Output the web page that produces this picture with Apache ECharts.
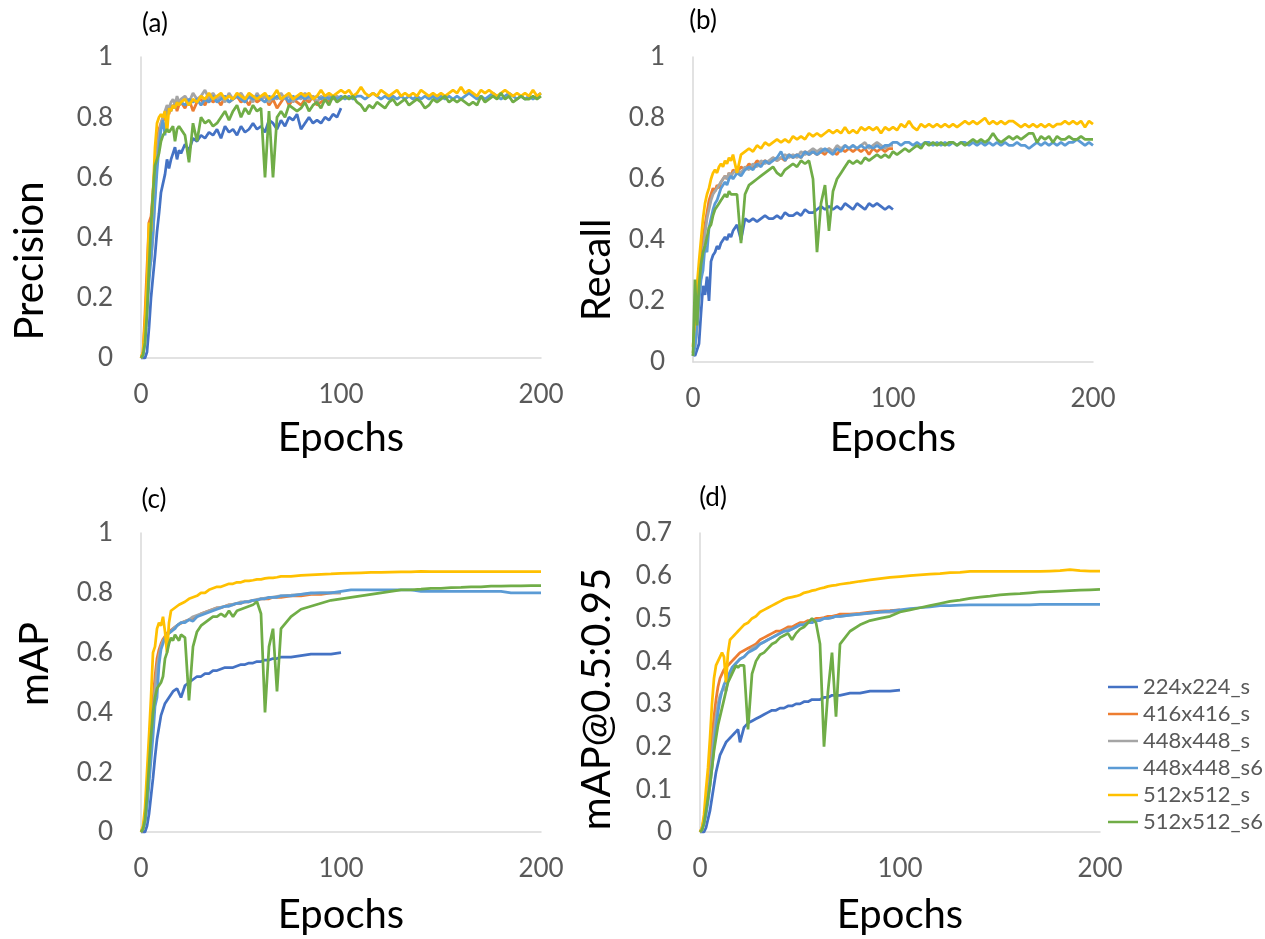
<!DOCTYPE html>
<html>
<head>
<meta charset="utf-8">
<script src="https://cdn.jsdelivr.net/npm/echarts@6/dist/echarts.min.js"></script>
<style>
html,body{margin:0;padding:0;background:#fff;}
#chart{width:1265px;height:939px;}
</style>
</head>
<body>
<div id="chart"></div>
<script>
// ---------- categories / names ----------
const SERIES_NAMES = ['224x224_s','416x416_s','448x448_s','448x448_s6','512x512_s','512x512_s6'];
const PANEL_LABELS = ['(a)','(b)','(c)','(d)'];
const Y_TITLES = ['Precision','Recall','mAP','mAP@0.5:0.95'];
const X_TITLE = 'Epochs';

// ---------- epochs (x values) ----------
const EPOCHS_PR = [0,1,2,3,4,5,6,7,8,9,10,11,12,13,14,15,16,17,18,19,20,
22,24,26,28,30,32,34,36,38,40,42,44,46,48,50,52,54,56,58,60,62,64,66,68,70,72,74,76,78,80,
82,84,86,88,90,92,94,96,98,100,102,104,106,108,110,112,114,116,118,120,122,124,126,128,130,
132,134,136,138,140,142,144,146,148,150,152,154,156,158,160,162,164,166,168,170,172,174,176,178,180,
182,184,186,188,190,192,194,196,198,200];
const EPOCHS_MAP = [0,1,2,3,4,5,6,7,8,9,10,11,12,13,14,15,16,17,18,19,20,
22,24,26,28,30,32,34,36,38,40,42,44,46,48,50,52,54,56,58,60,62,64,66,68,70,
75,80,85,90,95,100,105,110,115,120,125,130,135,140,145,150,155,160,165,170,175,180,185,190,195,200];

// ---------- (a) Precision ----------
const P_224 = [0,0,0,0.02,0.1,0.2,0.27,0.34,0.42,0.48,0.55,0.58,0.61,0.66,0.63,0.66,0.68,0.70,0.66,0.69,0.68,
0.71,0.69,0.73,0.72,0.74,0.73,0.75,0.74,0.76,0.73,
0.77,0.75,0.76,0.74,0.77,0.75,0.76,0.78,0.76,0.77,
0.75,0.79,0.78,0.76,0.79,0.77,0.80,0.79,0.81,0.76,
0.78,0.80,0.78,0.79,0.78,0.80,0.79,0.81,0.80,0.83];
const P_416 = [0,0.02,0.15,0.3,0.45,0.47,0.55,0.65,0.72,0.76,0.78,0.80,0.79,0.83,0.81,0.84,0.83,0.85,0.82,0.84,0.85,
0.83,0.86,0.82,0.85,0.86,0.84,0.87,0.85,0.86,0.84,
0.87,0.85,0.86,0.87,0.85,0.86,0.84,0.87,0.85,0.86,
0.87,0.84,0.86,0.83,0.85,0.87,0.84,0.86,0.85,0.84,
0.86,0.85,0.87,0.84,0.85,0.86,0.85,0.87,0.86,0.86];
const P_448 = [0,0.01,0.08,0.2,0.3,0.32,0.4,0.55,0.68,0.74,0.78,0.80,0.82,0.84,0.83,0.85,0.86,0.84,0.87,0.85,0.86,
0.87,0.85,0.88,0.86,0.87,0.89,0.86,0.88,0.86,0.87,
0.85,0.88,0.86,0.87,0.88,0.86,0.87,0.85,0.88,0.86,
0.87,0.85,0.87,0.86,0.88,0.86,0.87,0.85,0.87,0.86,
0.88,0.86,0.87,0.85,0.87,0.86,0.87,0.86,0.87,0.86];
const P_448S6 = [0,0.01,0.05,0.15,0.25,0.33,0.42,0.52,0.62,0.70,0.76,0.79,0.74,0.81,0.83,0.82,0.84,0.83,0.85,0.84,0.85,
0.84,0.86,0.85,0.86,0.84,0.86,0.85,0.87,0.85,0.86,
0.87,0.85,0.86,0.87,0.86,0.85,0.87,0.86,0.87,0.86,
0.85,0.87,0.86,0.87,0.86,0.87,0.85,0.87,0.86,0.87,
0.86,0.87,0.86,0.87,0.86,0.87,0.86,0.87,0.86,0.87,
0.86,0.87,0.86,0.87,0.87,0.86,0.87,0.88,0.87,0.86,
0.87,0.86,0.87,0.86,0.87,0.86,0.87,0.86,0.87,0.86,
0.87,0.86,0.87,0.86,0.87,0.86,0.87,0.86,0.87,0.86,
0.87,0.88,0.87,0.86,0.87,0.86,0.87,0.88,0.87,0.86,
0.87,0.88,0.87,0.86,0.87,0.86,0.87,0.86,0.87,0.88];
const P_512 = [0,0.02,0.12,0.25,0.45,0.42,0.55,0.70,0.78,0.80,0.81,0.80,0.82,0.75,0.83,0.82,0.84,0.83,0.85,0.84,0.85,
0.86,0.84,0.86,0.85,0.87,0.86,0.88,0.86,0.87,0.88,
0.86,0.87,0.86,0.88,0.87,0.86,0.88,0.87,0.86,0.87,
0.88,0.86,0.87,0.89,0.86,0.87,0.88,0.86,0.87,0.88,
0.87,0.88,0.86,0.87,0.89,0.87,0.88,0.87,0.88,0.89,
0.88,0.89,0.87,0.88,0.90,0.88,0.87,0.88,0.87,0.89,
0.88,0.87,0.88,0.89,0.87,0.88,0.87,0.88,0.87,0.89,
0.88,0.87,0.88,0.87,0.88,0.87,0.88,0.89,0.88,0.90,
0.88,0.89,0.88,0.87,0.89,0.88,0.89,0.88,0.87,0.88,
0.89,0.88,0.87,0.88,0.87,0.88,0.87,0.89,0.87,0.88];
const P_512S6 = [0,0.01,0.05,0.15,0.30,0.44,0.55,0.64,0.66,0.68,0.72,0.74,0.75,0.76,0.75,0.76,0.77,0.72,0.76,0.77,0.76,
0.74,0.65,0.78,0.72,0.80,0.78,0.79,0.77,0.78,0.80,
0.82,0.79,0.82,0.84,0.80,0.83,0.81,0.84,0.82,0.83,
0.60,0.82,0.60,0.80,0.82,0.80,0.84,0.83,0.82,0.83,
0.85,0.82,0.84,0.85,0.83,0.86,0.84,0.87,0.85,0.86,
0.87,0.86,0.87,0.85,0.84,0.82,0.84,0.83,0.85,0.84,
0.83,0.85,0.86,0.84,0.85,0.86,0.84,0.85,0.86,0.85,
0.83,0.84,0.86,0.85,0.86,0.87,0.85,0.86,0.85,0.86,
0.85,0.84,0.85,0.84,0.87,0.85,0.86,0.87,0.86,0.88,
0.86,0.87,0.85,0.86,0.87,0.86,0.86,0.87,0.86,0.87];

// ---------- (b) Recall ----------
const R_224 = [0.03,0.02,0.02,0.06,0.16,0.25,0.22,0.28,0.20,0.33,0.35,0.36,0.38,0.37,0.39,0.40,0.41,0.40,0.42,0.41,0.43,
0.45,0.40,0.47,0.46,0.47,0.46,0.47,0.48,0.47,0.47,
0.48,0.47,0.49,0.48,0.48,0.49,0.48,0.50,0.49,0.49,
0.50,0.51,0.50,0.51,0.50,0.51,0.50,0.52,0.51,0.50,
0.52,0.51,0.50,0.52,0.51,0.52,0.51,0.50,0.51,0.50];
const R_416 = [0.03,0.08,0.15,0.25,0.33,0.40,0.45,0.49,0.53,0.55,0.57,0.56,0.58,0.57,0.59,0.60,0.61,0.60,0.62,0.61,0.63,
0.62,0.64,0.63,0.65,0.64,0.66,0.65,0.66,0.65,0.67,
0.66,0.67,0.66,0.68,0.67,0.68,0.67,0.69,0.68,0.69,
0.68,0.69,0.68,0.70,0.69,0.68,0.70,0.69,0.70,0.69,
0.70,0.69,0.70,0.68,0.70,0.69,0.70,0.69,0.70,0.70];
const R_448 = [0.02,0.05,0.10,0.20,0.28,0.36,0.42,0.47,0.50,0.53,0.55,0.56,0.57,0.58,0.59,0.60,0.61,0.60,0.62,0.61,0.62,
0.63,0.62,0.64,0.63,0.65,0.64,0.66,0.65,0.66,0.67,
0.66,0.67,0.68,0.67,0.68,0.67,0.69,0.68,0.69,0.70,
0.69,0.70,0.69,0.70,0.69,0.71,0.70,0.71,0.70,0.71,
0.70,0.71,0.72,0.70,0.71,0.72,0.71,0.70,0.71,0.71];
const R_448S6 = [0.02,0.05,0.12,0.20,0.27,0.30,0.38,0.36,0.44,0.47,0.50,0.52,0.53,0.55,0.57,0.58,0.59,0.58,0.60,0.61,0.60,
0.62,0.61,0.63,0.64,0.63,0.65,0.64,0.66,0.65,0.66,
0.67,0.69,0.66,0.68,0.67,0.68,0.67,0.69,0.68,0.69,
0.68,0.69,0.70,0.69,0.68,0.70,0.69,0.71,0.70,0.71,
0.70,0.71,0.70,0.71,0.70,0.71,0.70,0.71,0.71,0.72,
0.72,0.71,0.72,0.72,0.71,0.72,0.71,0.72,0.72,0.71,
0.72,0.71,0.72,0.71,0.72,0.71,0.72,0.72,0.71,0.72,
0.71,0.72,0.71,0.72,0.71,0.72,0.71,0.72,0.71,0.71,
0.72,0.71,0.71,0.70,0.71,0.72,0.71,0.72,0.71,0.72,
0.71,0.72,0.71,0.72,0.72,0.73,0.72,0.71,0.72,0.71];
const R_512 = [0.05,0.15,0.25,0.33,0.40,0.47,0.52,0.55,0.57,0.60,0.62,0.63,0.62,0.64,0.65,0.64,0.66,0.65,0.67,0.66,0.68,
0.62,0.68,0.69,0.70,0.69,0.71,0.70,0.72,0.71,0.72,
0.73,0.72,0.73,0.72,0.74,0.73,0.74,0.73,0.75,0.74,
0.75,0.74,0.75,0.76,0.75,0.76,0.75,0.77,0.75,0.76,
0.75,0.77,0.76,0.77,0.76,0.77,0.75,0.77,0.76,0.77,
0.76,0.78,0.77,0.79,0.77,0.76,0.78,0.77,0.78,0.77,
0.78,0.77,0.78,0.77,0.78,0.77,0.78,0.79,0.78,0.79,
0.78,0.79,0.80,0.78,0.79,0.78,0.79,0.78,0.79,0.79,
0.78,0.77,0.78,0.77,0.78,0.77,0.78,0.77,0.78,0.77,
0.78,0.78,0.79,0.78,0.79,0.78,0.79,0.77,0.79,0.78];
const R_512S6 = [0.02,0.27,0.12,0.25,0.32,0.36,0.38,0.41,0.44,0.45,0.48,0.50,0.51,0.52,0.53,0.54,0.55,0.54,0.56,0.55,0.55,
0.55,0.39,0.55,0.58,0.59,0.60,0.61,0.62,0.63,0.64,
0.62,0.61,0.63,0.64,0.65,0.64,0.66,0.65,0.66,0.60,
0.36,0.52,0.58,0.43,0.56,0.60,0.62,0.64,0.66,0.65,
0.66,0.65,0.67,0.66,0.67,0.68,0.67,0.68,0.67,0.69,
0.68,0.69,0.70,0.69,0.70,0.71,0.70,0.72,0.71,0.72,
0.71,0.72,0.71,0.72,0.72,0.71,0.72,0.71,0.72,0.73,
0.72,0.73,0.72,0.73,0.75,0.73,0.72,0.73,0.74,0.73,
0.74,0.73,0.74,0.75,0.75,0.72,0.74,0.73,0.74,0.72,
0.74,0.73,0.73,0.74,0.73,0.73,0.74,0.73,0.73,0.73];

// ---------- (c) mAP ----------
const M_224 = [0,0,0,0.02,0.06,0.12,0.18,0.25,0.31,0.35,0.39,0.41,0.43,0.44,0.45,0.46,0.47,0.47,0.48,0.48,0.45,
0.49,0.50,0.51,0.52,0.52,0.53,0.53,0.54,0.54,0.545,0.55,0.55,0.55,0.555,0.56,0.56,0.565,0.565,0.57,0.57,0.575,0.575,0.58,0.58,0.585,
0.585,0.59,0.595,0.595,0.595,0.60];
const M_416 = [0,0.01,0.05,0.15,0.28,0.36,0.44,0.52,0.58,0.61,0.63,0.645,0.655,0.665,0.67,0.675,0.68,0.685,0.69,0.695,0.70,
0.705,0.71,0.715,0.72,0.73,0.735,0.74,0.745,0.75,0.75,0.755,0.76,0.76,0.765,0.765,0.77,0.77,0.775,0.775,0.78,0.78,0.78,0.785,0.785,0.785,
0.79,0.79,0.795,0.795,0.80,0.80];
const M_448 = [0,0.01,0.03,0.10,0.20,0.30,0.40,0.48,0.55,0.59,0.62,0.64,0.65,0.66,0.665,0.67,0.68,0.685,0.69,0.695,0.70,
0.705,0.71,0.72,0.725,0.73,0.735,0.74,0.745,0.75,0.752,0.755,0.76,0.762,0.765,0.77,0.77,0.772,0.775,0.778,0.78,0.782,0.784,0.786,0.788,0.79,
0.792,0.795,0.797,0.80,0.80,0.80];
const M_448S6 = [0,0.01,0.03,0.08,0.16,0.24,0.32,0.42,0.45,0.56,0.61,0.63,0.65,0.66,0.665,0.67,0.675,0.68,0.69,0.69,0.70,
0.70,0.71,0.705,0.72,0.725,0.73,0.735,0.74,0.745,0.75,0.755,0.755,0.76,0.765,0.765,0.77,0.77,0.775,0.775,0.78,0.78,0.785,0.785,0.785,0.79,
0.79,0.795,0.80,0.80,0.80,0.805,0.81,0.81,0.81,0.81,0.81,0.81,0.81,0.805,0.805,0.805,0.805,0.805,0.805,0.805,0.805,0.805,0.80,0.80,0.80,0.80];
const M_512 = [0,0.02,0.08,0.20,0.32,0.45,0.60,0.62,0.68,0.70,0.69,0.72,0.67,0.60,0.70,0.74,0.745,0.75,0.755,0.76,0.765,
0.77,0.78,0.785,0.79,0.80,0.80,0.81,0.815,0.82,0.82,0.825,0.83,0.83,0.835,0.835,0.84,0.84,0.842,0.845,0.845,0.848,0.85,0.85,0.852,0.855,
0.855,0.858,0.86,0.862,0.863,0.865,0.866,0.867,0.868,0.868,0.869,0.87,0.87,0.872,0.871,0.871,0.871,0.871,0.871,0.871,0.871,0.871,0.871,0.871,0.871,0.871];
const M_512S6 = [0,0.01,0.04,0.12,0.22,0.32,0.40,0.45,0.48,0.49,0.50,0.52,0.58,0.60,0.63,0.65,0.64,0.66,0.65,0.64,0.66,
0.65,0.44,0.62,0.67,0.69,0.70,0.71,0.72,0.72,0.73,0.72,0.74,0.72,0.74,0.745,0.75,0.755,0.76,0.77,0.73,0.40,0.62,0.68,0.47,0.68,
0.72,0.745,0.755,0.765,0.775,0.78,0.785,0.79,0.795,0.80,0.805,0.81,0.81,0.812,0.815,0.815,0.817,0.818,0.82,0.82,0.822,0.822,0.823,0.823,0.824,0.824];

// ---------- (d) mAP@0.5:0.95 ----------
const D_224 = [0,0,0,0.01,0.03,0.05,0.08,0.11,0.14,0.16,0.18,0.19,0.20,0.21,0.215,0.22,0.225,0.23,0.235,0.24,0.21,
0.245,0.255,0.26,0.265,0.27,0.275,0.28,0.285,0.285,0.29,0.29,0.295,0.295,0.30,0.30,0.305,0.305,0.31,0.31,0.31,0.315,0.315,0.32,0.32,0.32,
0.325,0.325,0.33,0.33,0.33,0.332];
const D_416 = [0,0.01,0.03,0.07,0.12,0.17,0.22,0.27,0.31,0.34,0.36,0.37,0.38,0.385,0.39,0.395,0.40,0.405,0.41,0.415,0.42,
0.425,0.43,0.435,0.44,0.45,0.455,0.46,0.465,0.47,0.47,0.475,0.48,0.48,0.485,0.49,0.49,0.495,0.495,0.50,0.50,0.502,0.505,0.505,0.507,0.51,
0.51,0.512,0.515,0.517,0.518,0.52];
const D_448 = [0,0.005,0.02,0.05,0.09,0.13,0.18,0.23,0.27,0.30,0.32,0.33,0.34,0.33,0.36,0.37,0.38,0.39,0.395,0.40,0.405,
0.41,0.42,0.43,0.435,0.44,0.445,0.45,0.455,0.46,0.465,0.47,0.475,0.475,0.48,0.485,0.487,0.49,0.492,0.495,0.497,0.50,0.50,0.502,0.505,0.505,
0.508,0.51,0.512,0.515,0.515,0.517];
const D_448S6 = [0,0.005,0.02,0.04,0.07,0.11,0.15,0.20,0.24,0.28,0.31,0.33,0.345,0.355,0.365,0.375,0.385,0.39,0.395,0.40,0.405,
0.41,0.42,0.425,0.43,0.44,0.445,0.45,0.455,0.46,0.465,0.47,0.47,0.475,0.48,0.485,0.485,0.49,0.49,0.495,0.495,0.50,0.50,0.502,0.505,0.505,
0.508,0.51,0.513,0.515,0.517,0.52,0.523,0.525,0.527,0.53,0.53,0.531,0.532,0.532,0.532,0.532,0.532,0.532,0.532,0.533,0.533,0.533,0.533,0.533,0.533,0.533];
const D_512 = [0,0.01,0.04,0.10,0.15,0.22,0.30,0.36,0.39,0.40,0.41,0.42,0.41,0.35,0.42,0.45,0.455,0.46,0.465,0.47,0.475,
0.485,0.49,0.50,0.505,0.515,0.52,0.525,0.53,0.535,0.54,0.545,0.548,0.55,0.552,0.555,0.56,0.562,0.565,0.567,0.57,0.572,0.575,0.577,0.578,0.58,
0.583,0.587,0.59,0.593,0.596,0.598,0.60,0.602,0.604,0.605,0.607,0.608,0.61,0.61,0.61,0.61,0.61,0.61,0.61,0.61,0.611,0.612,0.614,0.612,0.611,0.611];
const D_512S6 = [0,0.005,0.02,0.05,0.08,0.11,0.15,0.19,0.22,0.25,0.27,0.29,0.31,0.33,0.35,0.36,0.37,0.38,0.39,0.385,0.39,
0.39,0.24,0.37,0.40,0.415,0.42,0.43,0.44,0.445,0.455,0.46,0.465,0.45,0.465,0.475,0.48,0.49,0.50,0.49,0.44,0.20,0.33,0.42,0.27,0.44,
0.47,0.485,0.495,0.50,0.505,0.515,0.52,0.525,0.53,0.535,0.54,0.543,0.547,0.55,0.552,0.555,0.557,0.558,0.56,0.562,0.563,0.564,0.565,0.566,0.567,0.568];

// ---------- axis ranges ----------
const Y_MAX = [1, 1, 1, 0.7];
const Y_STEP = [0.2, 0.2, 0.2, 0.1];
const X_MAX = 200, X_STEP = 100;

// ---------- styling / layout (not data) ----------
const COLORS = ['#4472C4','#ED7D31','#A5A5A5','#5B9BD5','#FFC000','#70AD47'];
const FONT = 'Lato';
const GRIDS = [
  {left:141, top:57, width:400, height:301},
  {left:693, top:57, width:400, height:305},
  {left:141, top:533, width:400, height:299},
  {left:700, top:533, width:400, height:299}
];
const X_NAME_GAP = [60, 56, 63, 63];
const Y_TITLE_POS = [[30,261],[597,270],[35,664],[597,699]];
const LABEL_POS = [[155,24],[703,21],[154,500],[713,498]];

const panels = [
  {xs: EPOCHS_PR, data: [P_224, P_416, P_448, P_448S6, P_512, P_512S6]},
  {xs: EPOCHS_PR, data: [R_224, R_416, R_448, R_448S6, R_512, R_512S6]},
  {xs: EPOCHS_MAP, data: [M_224, M_416, M_448, M_448S6, M_512, M_512S6]},
  {xs: EPOCHS_MAP, data: [D_224, D_416, D_448, D_448S6, D_512, D_512S6]}
];

function pairs(xs, ys){ return ys.map((v,i)=>[xs[i], v]); }

const grid = [], xAxis = [], yAxis = [], series = [], graphic = [];
panels.forEach((p, k) => {
  grid.push(Object.assign({containLabel:false}, GRIDS[k]));
  xAxis.push({
    gridIndex:k, type:'value', min:0, max:X_MAX, interval:X_STEP,
    axisLine:{show:true, onZero:false, lineStyle:{color:'#D9D9D9', width:1.5}},
    axisTick:{show:false}, splitLine:{show:false},
    axisLabel:{fontSize:26, color:'#595959', fontFamily:FONT, margin:24},
    name:X_TITLE, nameLocation:'middle', nameGap:X_NAME_GAP[k],
    nameTextStyle:{fontSize:40, color:'#000', fontFamily:FONT}
  });
  yAxis.push({
    gridIndex:k, type:'value', min:0, max:Y_MAX[k], interval:Y_STEP[k],
    axisLine:{show:true, lineStyle:{color:'#D9D9D9', width:1.5}},
    axisTick:{show:false}, splitLine:{show:false},
    axisLabel:{fontSize:26, color:'#595959', fontFamily:FONT, margin:28}
  });
  p.data.forEach((ys, i) => {
    series.push({
      name:SERIES_NAMES[i], type:'line', xAxisIndex:k, yAxisIndex:k,
      data:pairs(p.xs, ys), symbol:'none', showSymbol:false,
      lineStyle:{width:2.75, color:COLORS[i]}, itemStyle:{color:COLORS[i]},
      emphasis:{disabled:true}
    });
  });
  graphic.push({
    type:'text', x:LABEL_POS[k][0], y:LABEL_POS[k][1],
    style:{text:PANEL_LABELS[k], textAlign:'center', textVerticalAlign:'middle',
      font:'26px ' + FONT, fill:'#000'}
  });
  graphic.push({
    type:'text', x:Y_TITLE_POS[k][0], y:Y_TITLE_POS[k][1], rotation:Math.PI/2,
    style:{text:Y_TITLES[k], textAlign:'center', textVerticalAlign:'middle',
      font:'40px ' + FONT, fill:'#000'}
  });
});

const chart = echarts.init(document.getElementById('chart'), null, {renderer:'canvas'});
chart.setOption({
  animation:false,
  backgroundColor:'#fff',
  color:COLORS,
  grid, xAxis, yAxis, series, graphic,
  legend:{
    data:SERIES_NAMES.map(n => ({name:n, icon:'rect'})),
    orient:'vertical', left:1103, top:671,
    itemWidth:30, itemHeight:2.5, itemGap:5,
    textStyle:{fontSize:22, lineHeight:22, color:'#595959', fontFamily:FONT}
  }
});
</script>
</body>
</html>
